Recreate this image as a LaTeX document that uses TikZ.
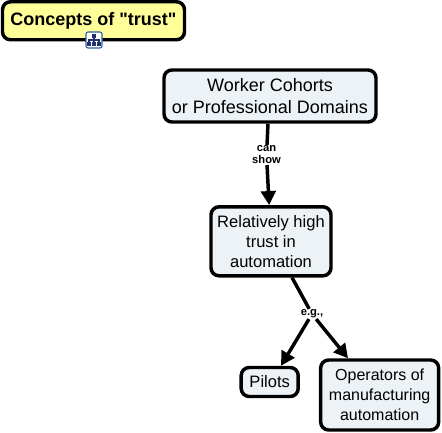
\documentclass[tikz,border=0pt]{standalone}
\usepackage{fontspec}
\setmainfont{Liberation Sans}
\newfontfamily\plainfont{Liberation Sans}
\usepackage{xcolor}
\usetikzlibrary{arrows.meta, positioning}
\definecolor{boxfill}{HTML}{ECF2F5}
\definecolor{rootfill}{HTML}{FFFF99}
\definecolor{iconblue}{HTML}{2F5F9F}
\definecolor{iconnavy}{HTML}{1F2F6F}

\begin{document}
\begin{tikzpicture}[
  x=0.75pt, y=0.75pt,
  block/.style={rectangle, draw, line width=2.6pt, rounded corners=6pt, fill=boxfill, align=center, inner sep=0pt, font=\fontsize{12.4}{15}\selectfont},
  root/.style={block, fill=rootfill, font=\plainfont\fontsize{13.5}{16}\selectfont\bfseries},
  arrow/.style={-{Triangle[length=10.5pt,width=11pt]}, line width=2.6pt},
  link/.style={line width=2.6pt},
  lbl/.style={font=\fontsize{8.4}{9}\selectfont\bfseries, align=center, inner sep=0.5pt},
  tick/.style={fill=iconnavy, minimum size=2.6pt, inner sep=0pt}
]
\useasboundingbox (0,0) rectangle (442,-432);

% ── Title and its icon ───────────────────────────────────────
\node[root, minimum width=136.5pt, minimum height=28.5pt] (title) at (93.5,-20.75) {Concepts of "trust"};
\node[draw=iconblue, fill=white, line width=0.8pt, rounded corners=1.5pt, minimum size=12pt, inner sep=0pt] (icon) at (94,-40) {};
\node[tick] (itop) at (94,-36) {};
\node[tick] (ileft) at (89,-44) {};
\node[tick] (iright) at (99,-44) {};
\node[tick] (imid) at (94,-44) {};
\draw[iconnavy, line width=0.8pt] (94,-36) -- (94,-44);
\draw[iconnavy, line width=0.8pt] (89,-44) |- (94,-40) -| (99,-44);

% ── Concept boxes ────────────────────────────────────────────
\node[block, minimum width=159pt, minimum height=39pt, font=\fontsize{13.5}{16.5}\selectfont] (cohorts) at (270,-96) {Worker Cohorts\\or Professional Domains};
\node[block, minimum width=90pt, minimum height=51.75pt, below=61pt of cohorts, xshift=0.75pt] (high) {Relatively high\\trust in\\automation};
\node[block, minimum width=42.75pt, minimum height=21.75pt] (pilots) at (269.7,-382) {Pilots};
\node[block, minimum width=88.5pt, minimum height=52.5pt, right=14.25pt of pilots, yshift=-9.75pt, font=\fontsize{12}{15}\selectfont] (operators) {Operators of\\manufacturing\\automation};

% ── Link labels ──────────────────────────────────────────────
\node[lbl] (show) at (266.5,-155) {can\\show};
\node[lbl] (eg) at (312,-314) {e.g.,};

% ── Arrows ───────────────────────────────────────────────────
\draw[link] (cohorts.south -| 268,0) -- (show);
\draw[arrow] (show) -- (high);
\draw[link] (high.south -| 292,0) -- (eg);
\draw[arrow] (eg) -- (pilots.north -| 281,0);
\draw[arrow] (eg) -- (operators.north -| 348,0);
\end{tikzpicture}
\end{document}
